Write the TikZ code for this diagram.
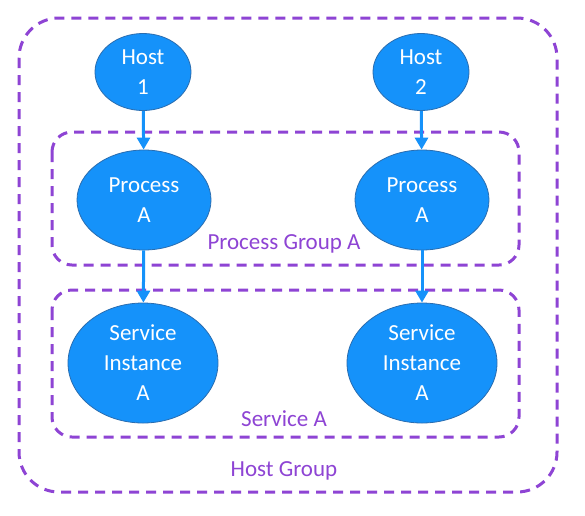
\documentclass[tikz,border=0pt]{standalone}
\usepackage{fontspec}
\setmainfont{Carlito}
\usetikzlibrary{arrows.meta,positioning,shapes.geometric}
\definecolor{nodeblue}{HTML}{1592FA}
\definecolor{nodeedge}{HTML}{2A6DB0}
\definecolor{grouppurple}{HTML}{8E44D4}
\tikzset{
  entity/.style={ellipse,fill=nodeblue,draw=nodeedge,line width=0.8pt,inner sep=0pt,
    text=white,align=center,font=\fontsize{23}{30}\selectfont},
  group/.style={draw=grouppurple,line width=3pt,dash pattern=on 10pt off 7pt},
  grouplabel/.style={text=grouppurple,font=\fontsize{23}{28}\selectfont},
  link/.style={draw=nodeblue,line width=3pt,-{Triangle[length=12pt,width=13pt]}}
}

\begin{document}
\begin{tikzpicture}[x=1pt,y=-1pt]
  \useasboundingbox[fill=white] (0,0) rectangle (585,515);
  % Groups
  \draw[group,rounded corners=40pt] (19,18) rectangle (557,492);
  \draw[group,rounded corners=20pt] (52,132) rectangle (519,265);
  \draw[group,rounded corners=20pt] (52,290) rectangle (519,437);
  \node[grouplabel] (pglabel) at (284,244) {Process Group A};
  \node[grouplabel] (salabel) at (284,419) {Service A};
  \node[grouplabel] (hglabel) at (284,471) {Host Group};
  % Hosts
  \node[entity,minimum width=96pt,minimum height=77pt] (host1) at (143,72) {Host\\1};
  \node[entity,minimum width=96pt,minimum height=77pt] (host2) at (421,72) {Host\\2};
  % Processes
  \node[entity,minimum width=134pt,minimum height=100pt] (proc1) at (144,200) {Process\\A};
  \node[entity,minimum width=134pt,minimum height=100pt] (proc2) at (422,200) {Process\\A};
  % Service instances
  \node[entity,minimum width=150pt,minimum height=120pt] (svc1) at (143,363) {Service\\Instance\\A};
  \node[entity,minimum width=150pt,minimum height=120pt] (svc2) at (422,363) {Service\\Instance\\A};
  % Links
  \draw[link] (host1) -- (proc1);
  \draw[link] (host2) -- (proc2);
  \draw[link] (proc1) -- (svc1);
  \draw[link] (proc2) -- (svc2);
\end{tikzpicture}
\end{document}
